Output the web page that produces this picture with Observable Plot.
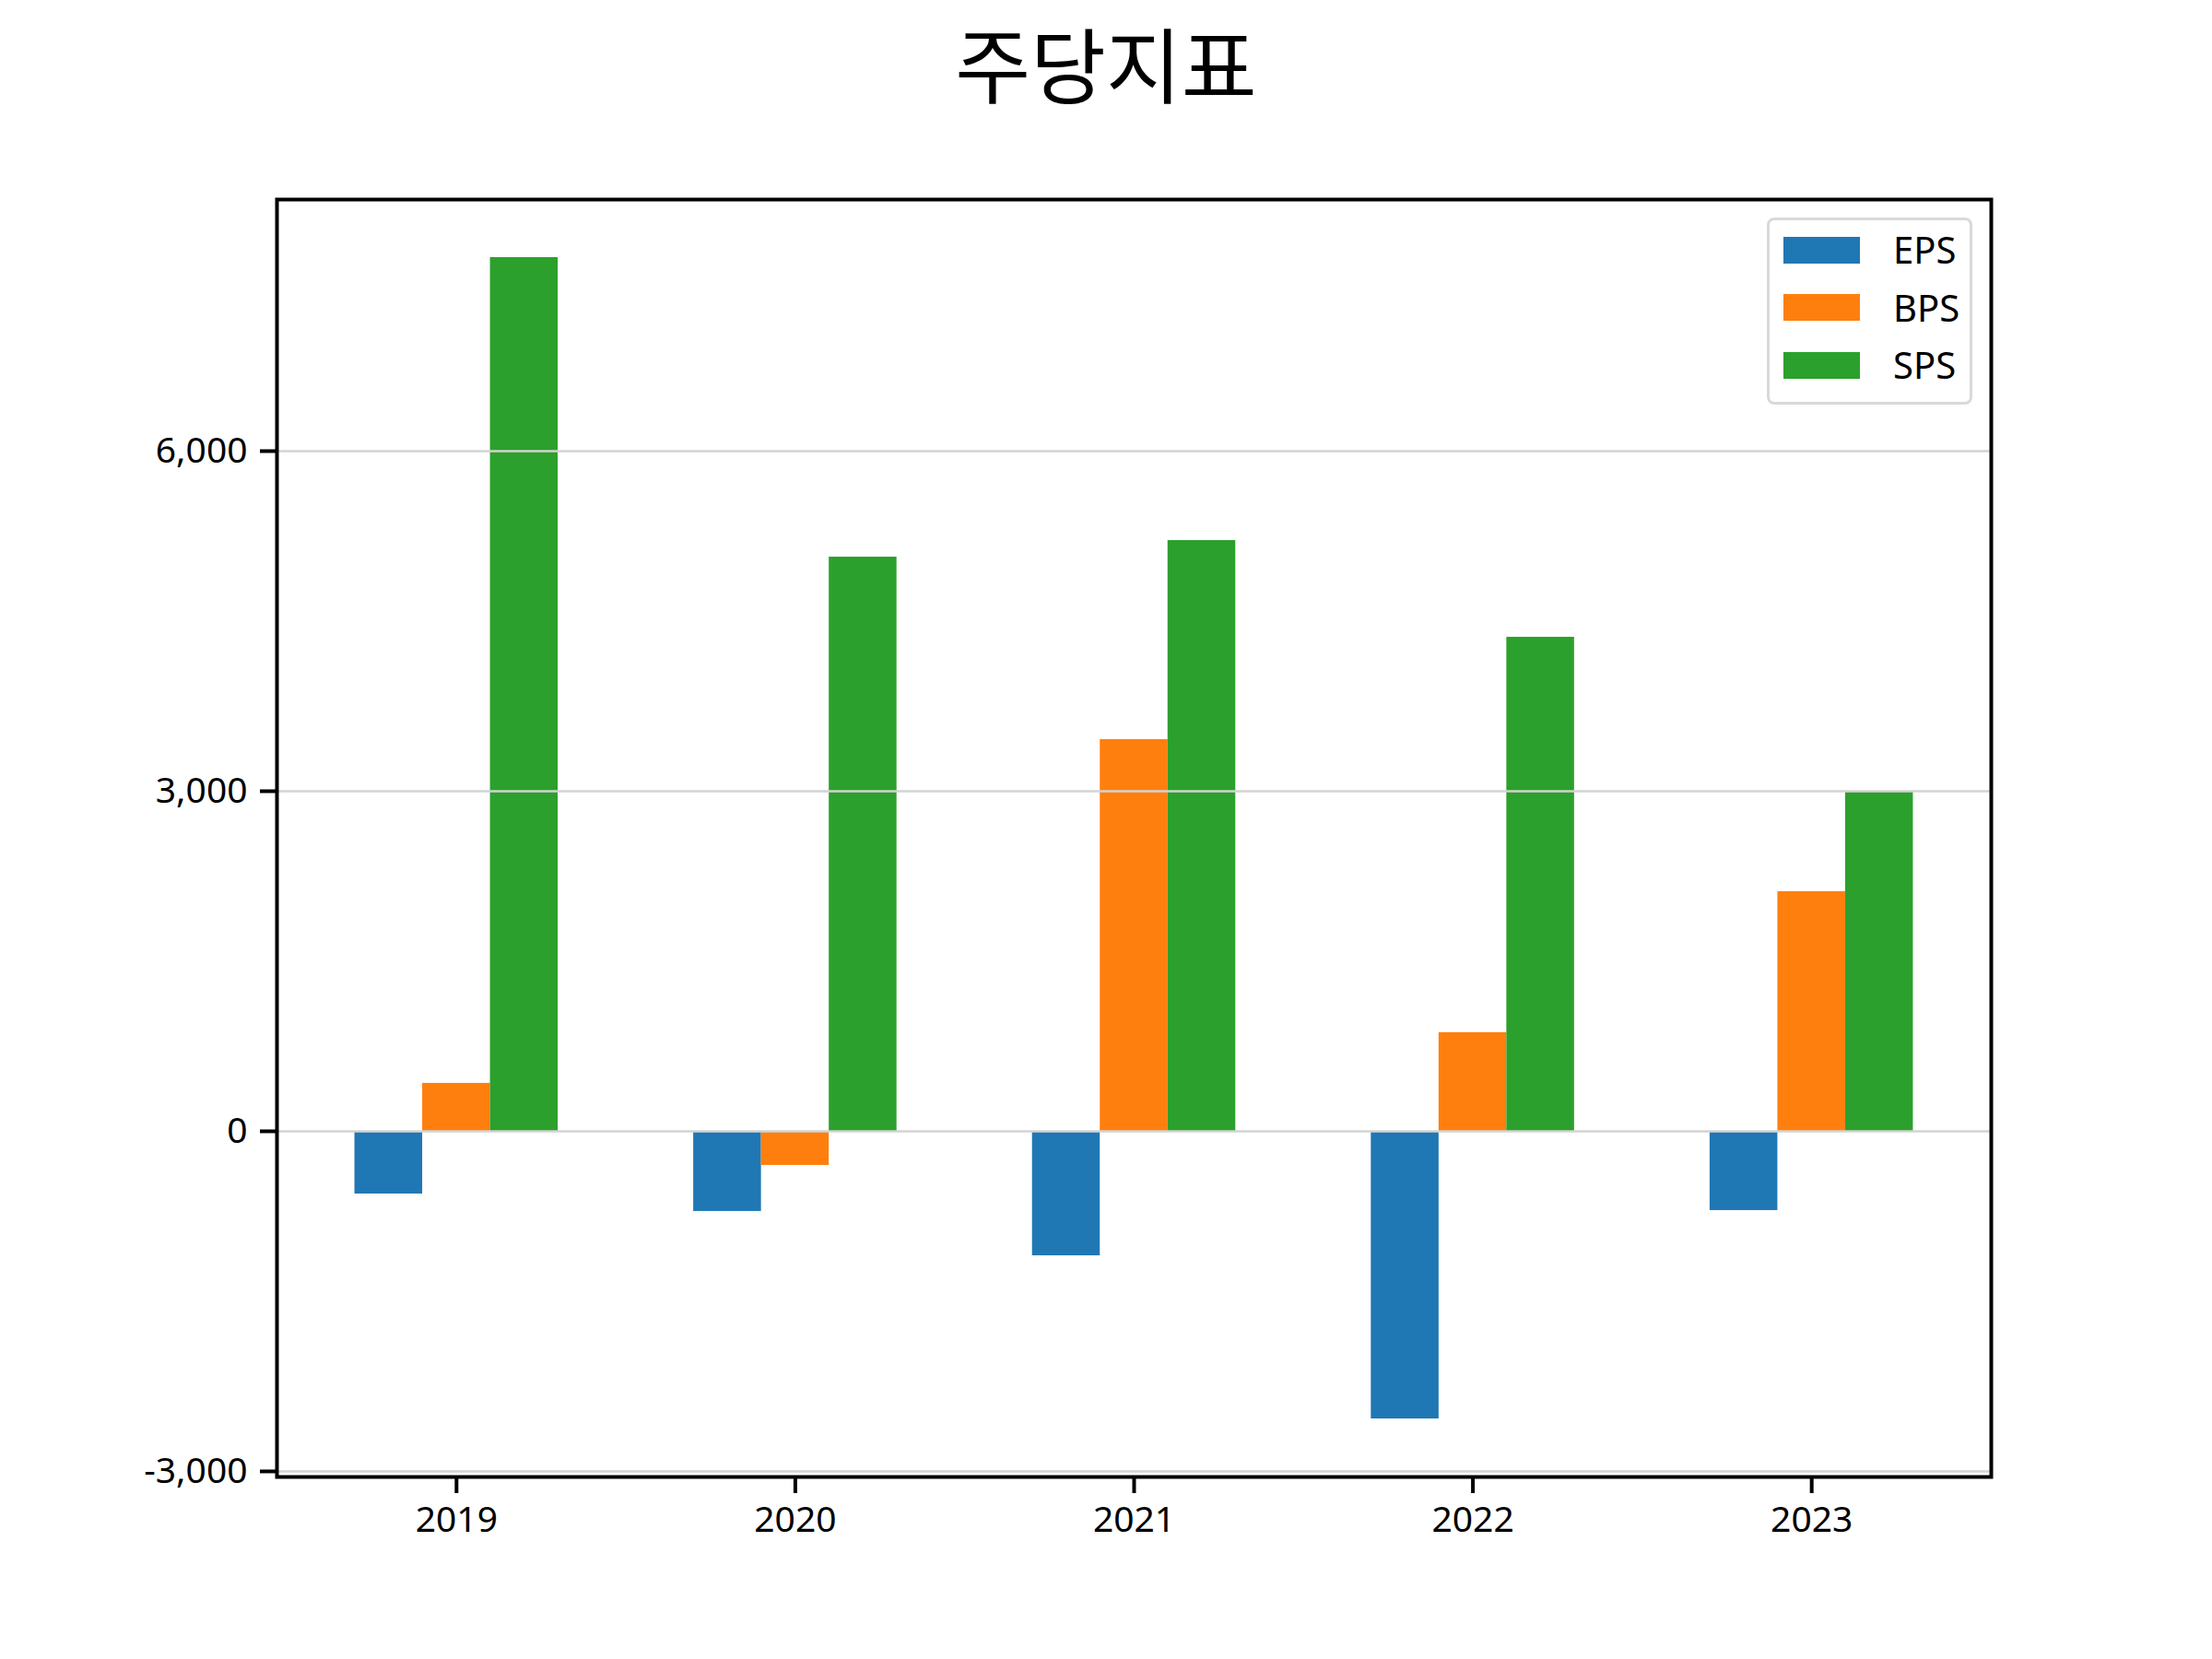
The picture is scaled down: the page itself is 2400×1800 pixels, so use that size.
<!DOCTYPE html>
<html>
<head>
<meta charset="utf-8">
<script src="https://cdn.jsdelivr.net/npm/d3@7"></script>
<script src="https://cdn.jsdelivr.net/npm/@observablehq/plot@0.6"></script>
<style>
  html, body { margin: 0; padding: 0; background: #fff; }
  #wrap { position: relative; width: 2400px; height: 1800px; background: #fff; font-family: "Noto Sans", "Noto Sans CJK KR", sans-serif; }
  #title { height: 150px; line-height: 134px; text-align: center; font-size: 89px; font-family: "Noto Sans CJK KR", "Noto Sans", sans-serif; color: #000; }
  #legend { position: absolute; left: 1917px; top: 236px; width: 217px; height: 197px; border: 3px solid #d9d9d9; border-radius: 8px; background: rgba(255,255,255,0.8); box-sizing: content-box; padding: 0; }
  .row { position: absolute; left: 15px; height: 62px; display: flex; align-items: center; }
  .sw { width: 83px; height: 29px; margin-right: 36px; }
  .lab { font-size: 40px; line-height: 1; color: #000; font-family: "Noto Sans", sans-serif; }
</style>
</head>
<body>
<div id="wrap">
  <div id="title"></div>
  <div id="chart"></div>
  <div id="legend"></div>
</div>
<script>
const title = "주당지표";
const years = ["2019", "2020", "2021", "2022", "2023"];
const series = ["EPS", "BPS", "SPS"];
const eps = [-553, -707, -1098, -2537, -699];
const bps = [423, -301, 3455, 870, 2114];
const sps = [7707, 5065, 5211, 4358, 2992];
const colors = ["#1f77b4", "#ff7f0e", "#2ca02c"];
const yTicks = [-3000, 0, 3000, 6000];

const values = [eps, bps, sps];
const barWidth = 0.2;

const rows = [];
series.forEach((s, k) => {
  years.forEach((y, i) => {
    const c = i + (k - 1) * barWidth;
    rows.push({year: y, series: s, value: values[k][i], x1: c - barWidth / 2, x2: c + barWidth / 2});
  });
});

// matplotlib-like 5% margins
const allY = [...eps, ...bps, ...sps, 0];
const [yMin, yMax] = d3.extent(allY);
const yPad = 0.05 * (yMax - yMin);
const xLo = -1.5 * barWidth, xHi = years.length - 1 + 1.5 * barWidth;
const xPad = 0.05 * (xHi - xLo);

document.getElementById("title").textContent = title;

const font = "'Noto Sans', 'Noto Sans CJK KR', sans-serif";

const chart = Plot.plot({
  width: 2400,
  height: 1650,
  marginTop: 66,
  marginBottom: 198,
  marginLeft: 300,
  marginRight: 240,
  style: {fontFamily: font, fontSize: "39px", background: "#fff", color: "#000"},
  x: {domain: [xLo - xPad, xHi + xPad], label: null},
  y: {domain: [yMin - yPad, yMax + yPad], label: null},
  color: {domain: series, range: colors},
  marks: [
    Plot.rectY(rows, {x1: "x1", x2: "x2", y1: 0, y2: "value", fill: "series"}),
    Plot.ruleY(yTicks, {stroke: "#d3d3d3", strokeWidth: 2.5}),
    Plot.axisX({
      ticks: years.map((_, i) => i),
      tickFormat: i => years[i],
      tickSize: 18, tickPadding: 14, strokeWidth: 4, stroke: "#000",
      fontSize: 39, fill: "#000", label: null
    }),
    Plot.axisY({
      ticks: yTicks,
      tickFormat: d => d.toLocaleString("en-US"),
      tickSize: 18, tickPadding: 14, strokeWidth: 4, stroke: "#000",
      fontSize: 39, fill: "#000", label: null
    }),
    Plot.frame({stroke: "#000", strokeWidth: 4})
  ]
});
document.getElementById("chart").appendChild(chart);

const legend = document.getElementById("legend");
series.forEach((s, k) => {
  const row = document.createElement("div");
  row.className = "row";
  row.style.top = (1 + k * 62.5) + "px";
  const sw = document.createElement("div");
  sw.className = "sw";
  sw.style.background = colors[k];
  const lab = document.createElement("div");
  lab.className = "lab";
  lab.textContent = s;
  row.appendChild(sw);
  row.appendChild(lab);
  legend.appendChild(row);
});
</script>
</body>
</html>
